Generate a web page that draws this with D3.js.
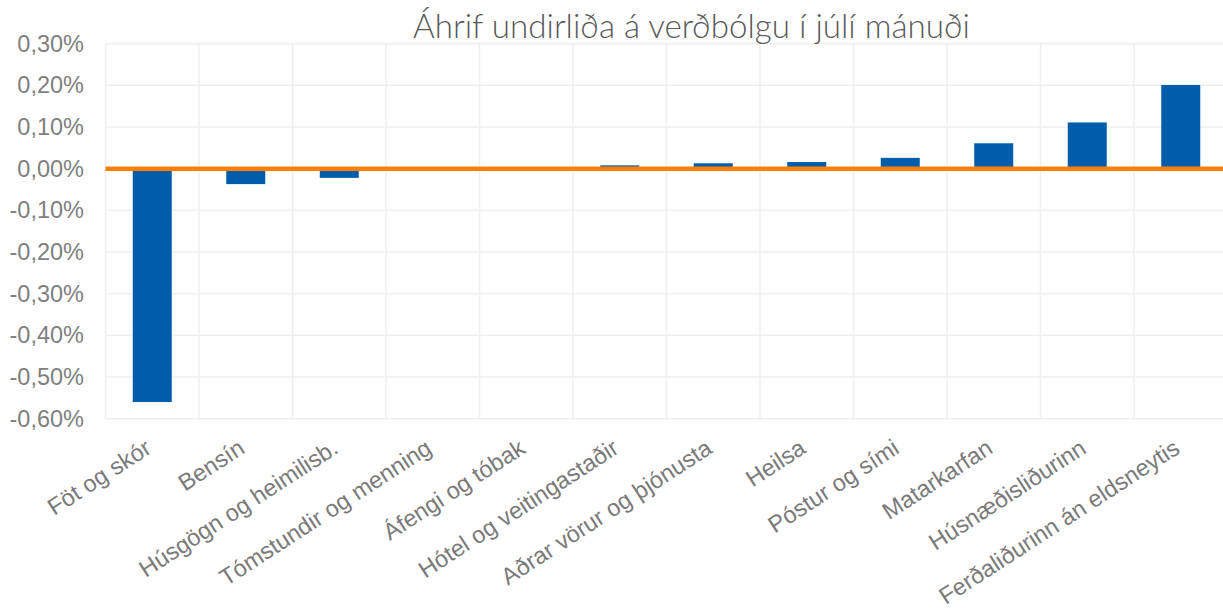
<!DOCTYPE html>
<html>
<head>
<meta charset="utf-8">
<script src="https://cdn.jsdelivr.net/npm/d3@7"></script>
<style>
  html, body { margin: 0; padding: 0; background: #fff; }
  svg { display: block; }
</style>
</head>
<body>
<svg id="chart" width="1223" height="614"></svg>
<script>
const categories = ["Föt og skór", "Bensín", "Húsgögn og heimilisb.", "Tómstundir og menning",
  "Áfengi og tóbak", "Hótel og veitingastaðir", "Aðrar vörur og þjónusta", "Heilsa",
  "Póstur og sími", "Matarkarfan", "Húsnæðisliðurinn", "Ferðaliðurinn án eldsneytis"];
const values = [-0.56, -0.037, -0.022, 0, 0, 0.008, 0.013, 0.016, 0.026, 0.061, 0.111, 0.201];
const yTicks = [0.3, 0.2, 0.1, 0, -0.1, -0.2, -0.3, -0.4, -0.5, -0.6];
const title = "Áhrif undirliða á verðbólgu í júlí mánuði";

(function () {
const svg = d3.select("#chart");
const pLeft = 105.5, pRight = 1227.5, pTop = 43.7, pBottom = 418.7;

const x = d3.scaleBand().domain(categories).range([pLeft, pRight]).padding(0);
const y = d3.scaleLinear().domain([-0.6, 0.3]).range([pBottom, pTop]);
const fmt = v => v.toFixed(2).replace(".", ",") + "%";

const grid = svg.append("g");
grid.selectAll("line.h").data(yTicks).join("line")
  .attr("x1", pLeft).attr("x2", pRight)
  .attr("y1", d => y(d)).attr("y2", d => y(d))
  .attr("stroke", "#efefef").attr("stroke-width", 1.5);
const vEdges = categories.map(c => x(c));
grid.selectAll("line.v").data(vEdges).join("line")
  .attr("x1", d => d).attr("x2", d => d)
  .attr("y1", pTop).attr("y2", pBottom)
  .attr("stroke", "#efefef").attr("stroke-width", 1.5);

// y axis labels
const yAxis = d3.axisLeft(y).tickValues(yTicks).tickFormat(fmt).tickSize(0).tickPadding(0);
const ya = svg.append("g").attr("transform", `translate(84,0)`).call(yAxis);
ya.select(".domain").remove();
ya.selectAll("text")
  .attr("font-family", "'Liberation Sans', Arial, sans-serif")
  .attr("font-size", "23.5px").attr("fill", "#7f7f7f");

// bars
const barW = x.bandwidth() * 0.417;
svg.append("g").selectAll("rect").data(values).join("rect")
  .attr("x", (d, i) => x(categories[i]) + x.bandwidth() / 2 - barW / 2)
  .attr("width", barW)
  .attr("y", d => Math.min(y(d), y(0)))
  .attr("height", d => Math.abs(y(d) - y(0)))
  .attr("fill", "#005dab");

// zero line
svg.append("line")
  .attr("x1", pLeft).attr("x2", pRight)
  .attr("y1", y(0)).attr("y2", y(0))
  .attr("stroke", "#ff8000").attr("stroke-width", 4.5);

// category labels
const xAxis = d3.axisBottom(x).tickSize(0).tickPadding(0);
const xa = svg.append("g").call(xAxis);
xa.select(".domain").remove();
xa.selectAll(".tick").attr("transform", d => `translate(${x(d) + x.bandwidth() / 2 + 0.5},452)`);
xa.selectAll("text")
  .attr("y", 0).attr("dy", 0)
  .attr("text-anchor", "end")
  .attr("transform", "rotate(-33)")
  .attr("font-family", "'Liberation Sans', Arial, sans-serif")
  .attr("font-size", "23.5px").attr("fill", "#7a7a7a");

// title
const t = svg.append("text")
  .attr("x", 691.5).attr("y", 38)
  .attr("text-anchor", "middle")
  .attr("font-family", "Lato, 'Open Sans', sans-serif")
  .attr("font-weight", 300)
  .attr("font-size", "26px").attr("fill", "#595959")
  .text(title);
const w = t.node().getComputedTextLength();
t.attr("font-size", (26 * 557 / w).toFixed(2) + "px");
})();
</script>
</body>
</html>
